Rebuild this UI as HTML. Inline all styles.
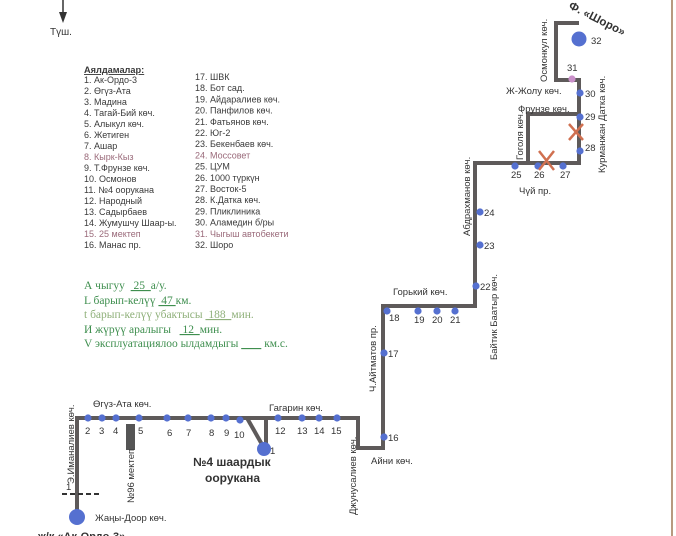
<!DOCTYPE html>
<html><head><meta charset="utf-8"><style>
html,body{margin:0;padding:0;background:#fff;}
svg{display:block;font-family:"Liberation Sans","DejaVu Sans",sans-serif;}
</style></head><body>
<svg width="676" height="536" viewBox="0 0 676 536" xmlns="http://www.w3.org/2000/svg">
<rect width="676" height="536" fill="#fff"/>
<line x1="672" y1="0" x2="672" y2="536" stroke="#b89a80" stroke-width="2"/>
<line x1="63" y1="0" x2="63" y2="14" stroke="#333" stroke-width="1.5"/>
<polygon points="59,12 67,12 63,23" fill="#333"/>
<text x="50" y="35" font-size="10" fill="#333">Түш.</text>

<g font-size="9" fill="#3a3a3a">
<text x="84" y="73" font-weight="bold" text-decoration="underline" font-size="9.2">Аялдамалар:</text>
<text x="84" y="83">1. Ак-Ордо-3</text>
<text x="84" y="94">2. Өгүз-Ата</text>
<text x="84" y="105">3. Мадина</text>
<text x="84" y="116">4. Тагай-Бий көч.</text>
<text x="84" y="127">5. Алыкул көч.</text>
<text x="84" y="138">6. Жетиген</text>
<text x="84" y="149">7. Ашар</text>
<text x="84" y="160" fill="#9a6a7a">8. Кырк-Кыз</text>
<text x="84" y="171">9. Т.Фрунзе көч.</text>
<text x="84" y="182">10. Осмонов</text>
<text x="84" y="193">11. №4 оорукана</text>
<text x="84" y="204">12. Народный</text>
<text x="84" y="215">13. Садырбаев</text>
<text x="84" y="226">14. Жумушчу Шаар-ы.</text>
<text x="84" y="237" fill="#9a6a7a">15. 25 мектеп</text>
<text x="84" y="248">16. Манас пр.</text>
<text x="195" y="80">17. ШВК</text>
<text x="195" y="91.2">18. Бот сад.</text>
<text x="195" y="102.4">19. Айдаралиев көч.</text>
<text x="195" y="113.6">20. Панфилов көч.</text>
<text x="195" y="124.8">21. Фатьянов көч.</text>
<text x="195" y="136">22. Юг-2</text>
<text x="195" y="147.2">23. Бекенбаев көч.</text>
<text x="195" y="158.4" fill="#9a6a7a">24. Моссовет</text>
<text x="195" y="169.6">25. ЦУМ</text>
<text x="195" y="180.8">26. 1000 түркүн</text>
<text x="195" y="192">27. Восток-5</text>
<text x="195" y="203.2">28. К.Датка көч.</text>
<text x="195" y="214.4">29. Пликлиника</text>
<text x="195" y="225.6">30. Аламедин б/ры</text>
<text x="195" y="236.8" fill="#9a6a7a">31. Чыгыш автобекети</text>
<text x="195" y="248">32. Шоро</text>
</g>

<g font-family="Liberation Serif,serif" font-size="11.5" fill="#3f8f4f">
<text x="84" y="289">А чыгуу &#160;<tspan text-decoration="underline">&#160;25&#160;&#160;</tspan>а/у.</text>
<text x="84" y="304">L барып-келүү <tspan text-decoration="underline">&#160;47&#160;</tspan>км.</text>
<text x="84" y="318" fill="#8fb07a">t барып-келүү убактысы <tspan text-decoration="underline">&#160;188&#160;&#160;</tspan>мин.</text>
<text x="84" y="333">И жүрүү аралыгы &#160;&#160;<tspan text-decoration="underline">&#160;12&#160;&#160;</tspan>мин.</text>
<text x="84" y="347">V эксплуатациялоо ылдамдыгы <tspan text-decoration="underline">&#160;&#160;&#160;&#160;&#160;&#160;&#160;</tspan>&#160;км.с.</text>
</g>

<g fill="none" stroke="#5e5a5a" stroke-width="4" stroke-linejoin="miter">
<polyline points="77,517 77,418 358,418 358,448 383,448 383,306 475,306 475,163 579,163 579,80 556,80 556,23 579,23"/>
<polyline points="528,163 528,114 579,114"/>
<polyline points="247,418 264,448"/>
<polyline points="266,418 266,448"/>
</g>
<line x1="62" y1="494" x2="99" y2="494" stroke="#333" stroke-width="2" stroke-dasharray="5,3"/>
<rect x="126" y="424" width="9" height="26" fill="#555"/>

<g fill="#5570d0">
<circle cx="77" cy="517" r="8"/>
<circle cx="88" cy="418" r="3.6"/><circle cx="102" cy="418" r="3.6"/><circle cx="116" cy="418" r="3.6"/>
<circle cx="139" cy="418" r="3.6"/><circle cx="167" cy="418" r="3.6"/><circle cx="188" cy="418" r="3.6"/>
<circle cx="211" cy="418" r="3.6"/><circle cx="226" cy="418" r="3.6"/><circle cx="240" cy="420" r="3.6"/>
<circle cx="264" cy="449" r="7"/>
<circle cx="278" cy="418" r="3.6"/><circle cx="302" cy="418" r="3.6"/><circle cx="319" cy="418" r="3.6"/><circle cx="337" cy="418" r="3.6"/>
<circle cx="384" cy="437" r="3.6"/><circle cx="384" cy="353" r="3.6"/><circle cx="387" cy="311" r="3.6"/>
<circle cx="418" cy="311" r="3.6"/><circle cx="437" cy="311" r="3.6"/><circle cx="455" cy="311" r="3.6"/>
<circle cx="476" cy="286" r="3.6"/><circle cx="480" cy="245" r="3.6"/><circle cx="480" cy="212" r="3.6"/>
<circle cx="515" cy="166" r="3.6"/><circle cx="538" cy="166" r="3.6"/><circle cx="563" cy="166" r="3.6"/>
<circle cx="580" cy="151" r="3.6"/><circle cx="580" cy="117" r="3.6"/><circle cx="580" cy="93" r="3.6"/>
<circle cx="579" cy="39" r="7.5"/>
</g>
<circle cx="572" cy="79" r="3.6" fill="#c98fc9"/>
<g stroke="#d07050" stroke-width="2.5">
<line x1="539" y1="151" x2="554" y2="170"/><line x1="554" y1="151" x2="539" y2="170"/>
<line x1="569" y1="124" x2="583" y2="140"/><line x1="583" y1="124" x2="569" y2="140"/>
</g>

<g font-size="9.5" fill="#333">
<text x="66" y="490">1</text>
<text x="85" y="434">2</text><text x="99" y="434">3</text><text x="113" y="434">4</text>
<text x="138" y="434">5</text><text x="167" y="436">6</text><text x="186" y="436">7</text>
<text x="209" y="436">8</text><text x="224" y="436">9</text><text x="234" y="438">10</text>
<text x="270" y="454">1</text>
<text x="275" y="434">12</text><text x="297" y="434">13</text><text x="314" y="434">14</text><text x="331" y="434">15</text>
<text x="388" y="441">16</text><text x="388" y="357">17</text><text x="389" y="321">18</text>
<text x="414" y="323">19</text><text x="432" y="323">20</text><text x="450" y="323">21</text>
<text x="480" y="290">22</text><text x="484" y="249">23</text><text x="484" y="216">24</text>
<text x="511" y="178">25</text><text x="534" y="178">26</text><text x="560" y="178">27</text>
<text x="585" y="151">28</text><text x="585" y="120">29</text><text x="585" y="97">30</text>
<text x="567" y="71">31</text><text x="591" y="44">32</text>
</g>

<g font-size="9.5" fill="#333">
<text x="93" y="407">Өгүз-Ата көч.</text>
<text x="269" y="411">Гагарин көч.</text>
<text x="371" y="464">Айни көч.</text>
<text x="393" y="295">Горький көч.</text>
<text x="518" y="112">Фрунзе көч.</text>
<text x="506" y="94">Ж-Жолу көч.</text>
<text x="519" y="194">Чүй пр.</text>
<text x="95" y="521">Жаңы-Доор көч.</text>
<text transform="translate(74,484) rotate(-90)">Э.Иманалиев көч.</text>
<text transform="translate(134,503) rotate(-90)">№96 мектеп</text>
<text transform="translate(356,515) rotate(-90)">Джунусалиев көч.</text>
<text transform="translate(376,392) rotate(-90)">Ч.Айтматов пр.</text>
<text transform="translate(470,236) rotate(-90)">Абдрахманов көч.</text>
<text transform="translate(497,360) rotate(-90)">Байтик Баатыр көч.</text>
<text transform="translate(523,160) rotate(-90)">Гоголя көч.</text>
<text transform="translate(547,82) rotate(-90)">Осмонкул көч.</text>
<text transform="translate(605,173) rotate(-90)">Курманжан Датка көч.</text>
</g>
<text transform="translate(568,8) rotate(27)" font-size="11.5" font-weight="bold" fill="#333">Ф. «Шоро»</text>
<text x="193" y="466" font-size="12" font-weight="bold" fill="#333">№4 шаардык</text>
<text x="205" y="482" font-size="12" font-weight="bold" fill="#333">оорукана</text>
<text x="38" y="540" font-size="11" font-weight="bold" fill="#333">ж/к «Ак-Ордо-3»</text>
</svg>
</body></html>
